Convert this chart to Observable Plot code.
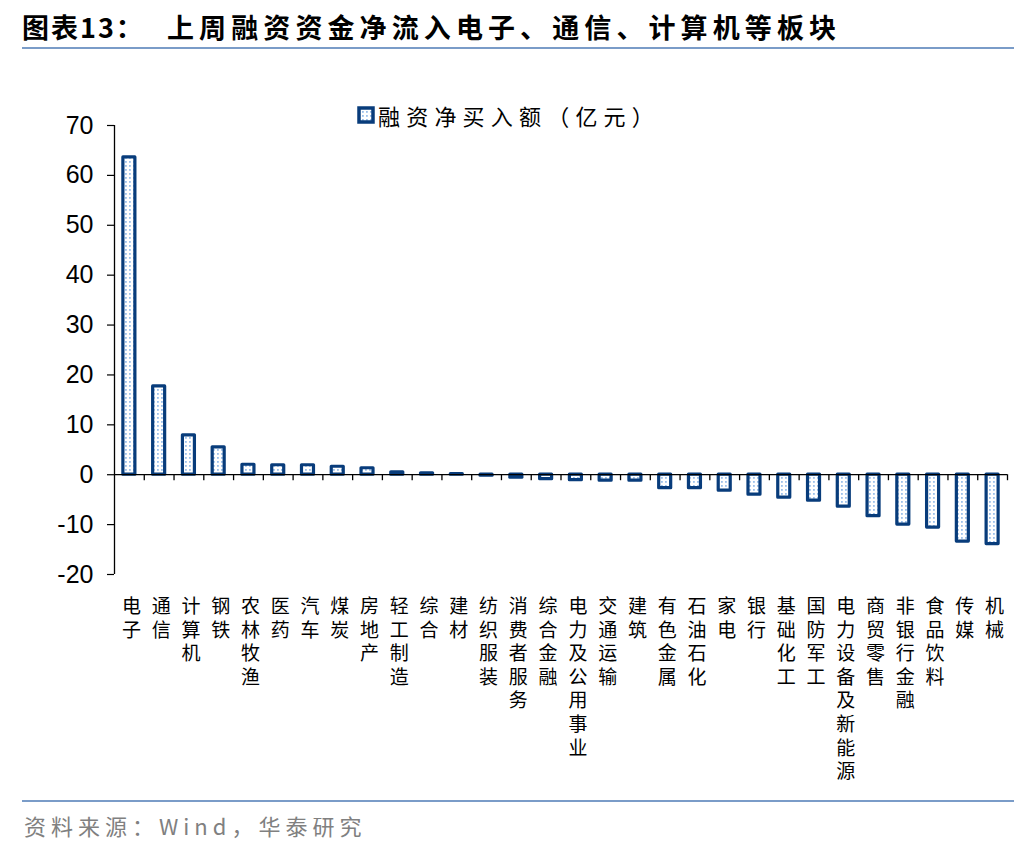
<!DOCTYPE html>
<html>
<head>
<meta charset="utf-8">
<script src="https://cdn.jsdelivr.net/npm/d3@7"></script>
<script src="https://cdn.jsdelivr.net/npm/@observablehq/plot@0.6"></script>
<style>
  html, body { margin: 0; padding: 0; background: #fff; }
  body { width: 1036px; height: 852px; position: relative; overflow: hidden; font-family: "Noto Sans CJK SC", sans-serif; }
  #title { position: absolute; left: 22px; top: 9px; font-size: 27px; line-height: 36px; font-weight: bold; color: #000; white-space: nowrap; z-index: 2; }
  #title .a { letter-spacing: 2px; }
  #title .b { position: absolute; left: 145px; top: 0; letter-spacing: 5.1px; }
  .rule { position: absolute; left: 22px; width: 992px; height: 2px; background: #7a9cc8; z-index: 2; }
  #legend { position: absolute; left: 357px; top: 100px; height: 30px; display: flex; align-items: center; z-index: 2; font-size: 22px; letter-spacing: 6.2px; color: #000; white-space: nowrap; }
  #legend svg { margin-right: 3px; }
  #chart { position: absolute; left: 0; top: 100px; z-index: 1; }
  #source { position: absolute; left: 24px; top: 809px; font-size: 22px; line-height: 32px; color: #808080; letter-spacing: 5px; white-space: nowrap; z-index: 2; }
</style>
</head>
<body>
<div id="title"><span class="a">图表13：</span><span class="b">上周融资资金净流入电子、通信、计算机等板块</span></div>
<div class="rule" style="top:47px"></div>
<div id="chart"></div>
<div id="legend"></div>
<div class="rule" style="top:800px"></div>
<div id="source">资料来源：Wind，华泰研究</div>
<script>
// ---- data ----
const categories = ["电子","通信","计算机","钢铁","农林牧渔","医药","汽车","煤炭","房地产","轻工制造","综合","建材","纺织服装","消费者服务","综合金融","电力及公用事业","交通运输","建筑","有色金属","石油石化","家电","银行","基础化工","国防军工","电力设备及新能源","商贸零售","非银行金融","食品饮料","传媒","机械"];
const values = [63.6, 17.7, 7.9, 5.5, 2.0, 1.9, 1.9, 1.6, 1.3, 0.5, 0.3, 0.1, -0.2, -0.6, -0.9, -1.1, -1.2, -1.2, -2.7, -2.7, -3.2, -4.0, -4.6, -5.2, -6.4, -8.3, -10.0, -10.6, -13.4, -13.9];
const yTicks = [-20, -10, 0, 10, 20, 30, 40, 50, 60, 70];
const seriesName = "融资净买入额（亿元）";

const table = categories.map((c, i) => ({cat: c, value: values[i]}));

const W = 1036, H = 690;
const mL = 114, mR = 29, mT = 25, mB = 216;
const step = (W - mL - mR) / categories.length;
const barW = 12;
const inset = (step - barW) / 2;
const navy = "#083c7b";
const latin = "'Liberation Sans', Arial, sans-serif";
const cjk = "'Liberation Sans', 'Noto Sans CJK SC', sans-serif";

const plot = Plot.plot({
  width: W,
  height: H,
  marginLeft: mL,
  marginRight: mR,
  marginTop: mT,
  marginBottom: mB,
  style: {background: "transparent", overflow: "visible"},
  x: {domain: categories, padding: 0, round: false, axis: null},
  y: {domain: [-20, 70], ticks: yTicks, axis: null},
  marks: [
    Plot.axisY({ticks: yTicks, tickFormat: d => String(d), tickSize: 7, tickPadding: 14, fontSize: 25, fontFamily: latin, stroke: "#000", strokeWidth: 1.2, color: "#000", label: null}),
    Plot.ruleX([categories[0]], {x: d => d, dx: -step / 2, stroke: "#000", strokeWidth: 1.3}),
    Plot.barY(table, {x: "cat", y: "value", fill: "url(#dotpat)", stroke: navy, strokeWidth: 3.2, strokeLinejoin: "round", insetLeft: inset, insetRight: inset}),
    Plot.ruleY([0], {stroke: "#000", strokeWidth: 1.3}),
    Plot.ruleX(categories, {x: d => d, y1: 0, y2: 0, insetBottom: -6, dx: step / 2, stroke: "#000", strokeWidth: 1.3}),
    Plot.text(categories, {x: d => d, text: d => d.split("").join("\n"), frameAnchor: "bottom", lineAnchor: "top", dy: 22, dx: 2, lineHeight: 1.24, fontSize: 19, fontFamily: cjk, fill: "#000"})
  ]
});

// dotted fill pattern
const svgNS = "http://www.w3.org/2000/svg";
function addPattern(svg, id) {
  const defs = document.createElementNS(svgNS, "defs");
  const pat = document.createElementNS(svgNS, "pattern");
  pat.setAttribute("id", id);
  pat.setAttribute("patternUnits", "userSpaceOnUse");
  pat.setAttribute("width", "4");
  pat.setAttribute("height", "4");
  const bg = document.createElementNS(svgNS, "rect");
  bg.setAttribute("width", "4"); bg.setAttribute("height", "4"); bg.setAttribute("fill", "#ffffff");
  const dot = document.createElementNS(svgNS, "rect");
  dot.setAttribute("x", "1"); dot.setAttribute("y", "1"); dot.setAttribute("width", "1.8"); dot.setAttribute("height", "1.8"); dot.setAttribute("fill", "#9cc0ea");
  pat.appendChild(bg); pat.appendChild(dot); defs.appendChild(pat);
  svg.insertBefore(defs, svg.firstChild);
}
addPattern(plot, "dotpat");
document.getElementById("chart").appendChild(plot);

// legend
const leg = document.getElementById("legend");
const icon = document.createElementNS(svgNS, "svg");
icon.setAttribute("width", "18"); icon.setAttribute("height", "18");
addPattern(icon, "dotpat2");
const ir = document.createElementNS(svgNS, "rect");
ir.setAttribute("x", "2"); ir.setAttribute("y", "2"); ir.setAttribute("width", "14"); ir.setAttribute("height", "14");
ir.setAttribute("fill", "url(#dotpat2)"); ir.setAttribute("stroke", navy); ir.setAttribute("stroke-width", "3.5");
icon.appendChild(ir);
leg.appendChild(icon);
const lt = document.createElement("span");
lt.textContent = seriesName;
leg.appendChild(lt);
</script>
</body>
</html>
